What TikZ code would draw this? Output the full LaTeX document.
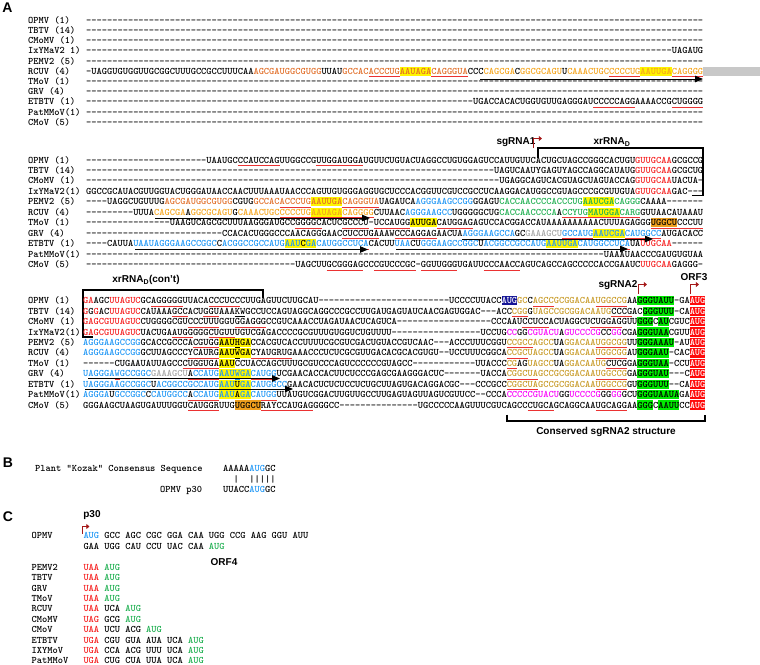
\documentclass[tikz,border=0pt]{standalone}
\usepackage{fontspec}
\setsansfont{Liberation Sans}
\usetikzlibrary{arrows.meta}

\ExplSyntaxOn
\cs_new:Npn \sgap #1 {\prg_replicate:nn {#1} {-\kern0pt}}
\ExplSyntaxOff
\newcommand\tcol[2]{\textcolor{#1}{#2}}
\newcommand\hilite[2]{\setbox0\hbox{#2}\rlap{\color{#1}\rule[-1.6pt]{\wd0}{9.2pt}}\box0}
\newcommand\redul[1]{\setbox0\hbox{#1}\rlap{\color{ulred}\rule[-2.6pt]{\wd0}{0.6pt}}\box0}
\newcommand\blackul[1]{\setbox0\hbox{#1}\rlap{\rule[-2.6pt]{\wd0}{0.6pt}}\box0}
\newcommand\augbox{\hilite{augred}{\textcolor{white}{AUG}}}

\begin{document}
\begin{tikzpicture}[x=1pt,y=-1pt,
	vname/.style={anchor=base west,inner sep=0pt,font=\ttfamily\bfseries\fontsize{9.96}{10}\selectfont},
	seqtxt/.style={vname},
	lab/.style={inner sep=0pt,font=\sffamily\bfseries\fontsize{10}{12}\selectfont},
	panel/.style={inner sep=0pt,font=\sffamily\bfseries\fontsize{14}{16}\selectfont},
	flag/.style={line width=1.8pt,draw=flagred,-{Triangle[length=3.2pt,width=5pt]}},
	seqarrow/.style={line width=0.9pt,-{Triangle[length=8pt,width=6.5pt]}},
	brk/.style={line width=1.5pt}]

	\definecolor{ulred}{RGB}{235,50,50}
	\definecolor{rd}{RGB}{245,30,30}
	\definecolor{o1}{RGB}{225,110,40}
	\definecolor{o2}{RGB}{245,165,30}
	\definecolor{bl}{RGB}{30,150,245}
	\definecolor{gn}{RGB}{30,175,80}
	\definecolor{gd}{RGB}{200,155,40}
	\definecolor{mg}{RGB}{250,0,250}
	\definecolor{gy}{RGB}{165,165,165}
	\definecolor{hly}{RGB}{255,245,0}
	\definecolor{hlg}{RGB}{0,235,0}
	\definecolor{hlo}{RGB}{240,160,30}
	\definecolor{augred}{RGB}{255,10,10}
	\definecolor{augnavy}{RGB}{20,20,150}
	\definecolor{flagred}{RGB}{165,25,25}
	\definecolor{bargray}{RGB}{200,200,200}

	\useasboundingbox (0,0) rectangle (760,664);

	% panel A, first block
	\node (pA) [panel] at (7.5,8) {A};
	\node (tOPMV) [vname] at (28,23.3) {OPMV (1)};
	\node (tTBTV) [vname] at (28,33.5) {TBTV (14)};
	\node (tCMoMV) [vname] at (28,43.7) {CMoMV (1)};
	\node (tIxY) [vname] at (28,53.9) {IxYMaV2 1)};
	\node (tPEMV) [vname] at (28,64.1) {PEMV2 (5)};
	\node (tRCUV) [vname] at (28,74.3) {RCUV (4)};
	\node (tTMoV) [vname] at (28,84.5) {TMoV (1)};
	\node (tGRV) [vname] at (28,94.7) {GRV (4)};
	\node (tETBTV) [vname] at (28,104.9) {ETBTV (1)};
	\node (tPat) [vname] at (28,115.1) {PatMMoV(1)};
	\node (tCMoV) [vname] at (28,125.3) {CMoV (5)};

	\fill[bargray] (703,66.8) rectangle (760,75.8);
	\node (tOPMVs) [seqtxt] at (86,23.3) {\sgap{118}};
	\node (tTBTVs) [seqtxt] at (86,33.5) {\sgap{118}};
	\node (tCMoMVs) [seqtxt] at (86,43.7) {\sgap{118}};
	\node (tIxYs) [seqtxt] at (86,53.9) {\sgap{112}UAGAUG};
	\node (tPEMVs) [seqtxt] at (86,64.1) {\sgap{118}};
	\node (tRCUVs) [seqtxt] at (86,74.3) {\sgap{1}UAGGUGUGGUUGCGGCUUUGCCGCCUUUCAA\tcol{o1}{AGCGAUGGCGUGG}UUAU\tcol{o1}{GCCAC\redul{ACCCUG}}\hilite{hly}{\tcol{o1}{AAUAGA}}\tcol{o1}{\redul{CAGGGUA}}CCC\tcol{o2}{CAGCGA}C\tcol{o2}{GGCGCAGU}U\tcol{o2}{CAAACUGC\redul{CCCCUG}}\hilite{hly}{\tcol{o2}{AAUUGA}}\tcol{o2}{\redul{CAGGGG}}};
	\node (tTMoVs) [seqtxt] at (86,84.5) {\sgap{118}};
	\node (tGRVs) [seqtxt] at (86,94.7) {\sgap{118}};
	\node (tETBTVs) [seqtxt] at (86,104.9) {\sgap{74}UGACCACACUGGUGUUGAGGGAU\redul{CCCCCAGG}AAAACCG\redul{CUGGGG}};
	\node (tPats) [seqtxt] at (86,115.1) {\sgap{118}};
	\node (tCMoVs) [seqtxt] at (86,125.3) {\sgap{118}};
	\draw[seqarrow] (480,79) -- (703,79);

	% panel A, second block
	\node (sg1) [lab] at (516,142) {sgRNA1};
	\node (xr1) [lab] at (612,142) {xrRNA\textsubscript{D}};
	\draw[flag] (533.5,148) -- (533.5,138.5) -- (542,138.5);
	\draw[brk] (538,157.5) -- (538,148) -- (703,148) -- (703,195.5) -- (692,195.5);

	\node (mOPMV) [vname] at (28,163) {OPMV (1)};
	\node (mTBTV) [vname] at (28,173.45) {TBTV (14)};
	\node (mCMoMV) [vname] at (28,183.9) {CMoMV (1)};
	\node (mIxY) [vname] at (28,194.35) {IxYMaV2(1)};
	\node (mPEMV) [vname] at (28,204.8) {PEMV2 (5)};
	\node (mRCUV) [vname] at (28,215.25) {RCUV (4)};
	\node (mTMoV) [vname] at (28,225.7) {TMoV (1)};
	\node (mGRV) [vname] at (28,236.15) {GRV (4)};
	\node (mETBTV) [vname] at (28,246.6) {ETBTV (1)};
	\node (mPat) [vname] at (28,257.05) {PatMMoV(1)};
	\node (mCMoV) [vname] at (28,267.5) {CMoV (5)};

	\node (mOPMVs) [seqtxt] at (86,163) {\sgap{23}UAAUGC\redul{CCAUCCAG}UUGGCCG\redul{UUGGAUGGA}UGUUCUGUACUAGGCCUGUGGAGUCCAUUGUUCACUGCUAGCCGGGCACUGU\tcol{rd}{GUUGCAA}GCGCCG};
	\node (mTBTVs) [seqtxt] at (86,173.45) {\sgap{78}UAGUCAAUYGAGUYAGCCAGGCAUAUG\tcol{rd}{GUUGCAA}GCGCUG};
	\node (mCMoMVs) [seqtxt] at (86,183.9) {\sgap{79}UGAGGCAGUCACGUAGCUAGUACCAG\tcol{rd}{GUUGCAA}UACUA\sgap{1}};
	\node (mIxYs) [seqtxt] at (86,194.35) {GGCCGCAUACGUUGGUACUGGGAUAACCAACUUUAAAUAACCCAGUUGUGGGAGGUGCUCCCACGGUUCGUCCGCCUCAAGGACAUGGCCGUAGCCCGCGUUGUA\tcol{rd}{GUUGCAA}GAC\sgap{3}};
	\node (mPEMVs) [seqtxt] at (86,204.8) {\sgap{4}UAGGCUGUUUG\tcol{o1}{AGCGAUGGCGUGG}CGUG\tcol{o1}{GCCAC\redul{ACCCUG}}\hilite{hly}{\tcol{o1}{AAUUGA}}\tcol{o1}{\redul{CAGGGUA}}UAGAUCA\tcol{bl}{AGGGAAGCCGG}GGAGU\tcol{gn}{CACCAACCCCACCCUG}\hilite{hly}{\tcol{gn}{AAUCGA}}\tcol{gn}{CAGGG}CAAAA\sgap{7}};
	\node (mRCUVs) [seqtxt] at (86,215.25) {\sgap{9}UUUA\tcol{o2}{CAGCGA}A\tcol{o2}{GGCGCAGU}G\tcol{o2}{CAAACUGC\redul{CCCCUG}}\hilite{hly}{\tcol{o2}{\redul{AAUAGA}}}\tcol{o2}{\redul{CAGGGG}}CUUAAC\tcol{bl}{AGGGAAGCC}UGGGGGCUG\tcol{gn}{CACCAACCCCA}A\tcol{gn}{\redul{CCYUG}}\hilite{hly}{\tcol{gn}{\redul{MAUGGA}}}\tcol{gn}{\redul{CARG}}GUUAACAUAAAU};
	\node (mTMoVs) [seqtxt] at (86,225.7) {\sgap{16}UAAGUCAGCGCUUUAAGGGAUGCC\redul{GGGGC}ACUC\redul{GCCCU}\sgap{1}\redul{UCCAUGG}\hilite{hly}{AUUGA}\redul{CAUGGAG}AGUCCACGGACCAUAAAAAAAAAACUUUAGAGGG\hilite{hlo}{\redul{UGGCU}}\redul{CCCUU}};
	\node (mGRVs) [seqtxt] at (86,236.15) {\sgap{26}CCACACUGGGCCCAACAGGGAAC\redul{CUCCUGA}AAW\redul{CCCAGGAG}AACUA\tcol{bl}{AGGGAAGCCA}GC\tcol{gy}{GAAAGCU}\tcol{bl}{\redul{GCCAUG}}\hilite{hly}{\tcol{bl}{AAUCGA}}\tcol{bl}{\redul{CAUGGCC}}AUGACACC};
	\node (mETBTVs) [seqtxt] at (86,246.6) {\sgap{4}CAUUA\tcol{bl}{UAAUAGGGAAGCCGGC}C\tcol{bl}{ACGGCC\redul{GCCAUG}}\hilite{hly}{\tcol{bl}{AAU}C\tcol{bl}{GA}}\tcol{bl}{\redul{CAUGGCCUCA}}CACUU\tcol{bl}{UAA}CU\tcol{bl}{GGGAAGCCGGC}U\tcol{bl}{ACGGCC\redul{GCCAUG}}\hilite{hly}{\tcol{bl}{AAUUGA}}\tcol{bl}{\redul{CAUGGCCUCA}}UA\tcol{rd}{UUGCAA}\sgap{6}};
	\node (mPats) [seqtxt] at (86,257.05) {\sgap{99}UAAAUAACCCGAUGUGUAA};
	\node (mCMoVs) [seqtxt] at (86,267.5) {\sgap{40}UAGCUU\redul{GCGGGAG}CC\redul{CGUCCCGC}\sgap{1}\redul{GGUUGGG}UGAUU\redul{CCCAACC}AGUCAGCCAGCCCCCACCGAAUC\tcol{rd}{UUGCAA}GAGGG\sgap{1}};
	\draw[seqarrow] (155,218) -- (370,218);
	\draw[seqarrow] (462,239) -- (653,239);
	\draw[seqarrow] (135,249.5) -- (368,249.5);
	\draw[seqarrow] (396,249) -- (628,249);

	% panel A, third block
	\node (xr2) [lab] at (146,280) {xrRNA\textsubscript{D}(con't)};
	\draw[brk] (93,337) -- (83,337) -- (83,290) -- (263,290) -- (263,298);
	\node (sg2) [lab] at (618,285) {sgRNA2};
	\node (orf3) [lab] at (694,277) {ORF3};
	\draw[flag] (638.5,294) -- (638.5,284.5) -- (647,284.5);
	\draw[flag] (690.5,294) -- (690.5,284.5) -- (699,284.5);

	\node (bOPMV) [vname] at (28,303.7) {OPMV (1)};
	\node (bTBTV) [vname] at (28,314.1) {TBTV (14)};
	\node (bCMoMV) [vname] at (28,324.6) {CMoMV (1)};
	\node (bIxY) [vname] at (28,335) {IxYMaV2(1)};
	\node (bPEMV) [vname] at (28,345.4) {PEMV2 (5)};
	\node (bRCUV) [vname] at (28,355.9) {RCUV (4)};
	\node (bTMoV) [vname] at (28,366.3) {TMoV (1)};
	\node (bGRV) [vname] at (28,376.7) {GRV (4)};
	\node (bETBTV) [vname] at (28,387.1) {ETBTV (1)};
	\node (bPat) [vname] at (28,397.6) {PatMMoV(1)};
	\node (bCMoV) [vname] at (28,408) {CMoV (5)};

	\node (bOPMVs) [seqtxt] at (83,303.7) {\tcol{rd}{GA}AGC\tcol{rd}{UUAGUC}GC\redul{AGGGGG}UUACA\redul{CCCUCC}CUUGAGUUCUUGCAU\sgap{25}UCCCCUUACC\hilite{augnavy}{\textcolor{white}{AUG}}\tcol{gd}{GC}C\tcol{gd}{\redul{AGCC}GCGGACAA\redul{UGGCCG}}AA\hilite{hlg}{GGGUAUU}\sgap{1}GA\augbox};
	\node (bTBTVs) [seqtxt] at (83,314.1) {\tcol{rd}{G}G\tcol{rd}{G}AC\tcol{rd}{UUAGUC}CAUAAA\redul{GCC}ACU\redul{GGU}AAA\blackul{KW}GCCUCCAGUAGGCAGGCCCGCCUUGAUGAGUAUCAACGAGUGGAC\sgap{3}ACC\tcol{gd}{\redul{CGG}}G\tcol{gd}{UAGCCGCGGACAAUG}\redul{CCCG}AC\hilite{hlg}{GGGUUU}\sgap{1}CA\augbox};
	\node (bCMoMVs) [seqtxt] at (83,324.6) {\tcol{rd}{GAGCGUUAGUC}CUGGGGCGU\redul{CCCUUU}GGU\redul{GGAGGG}CCGUCAAACCUAGAUAACUCAGUCA\sgap{18}CCCAAU\redul{CCUCC}ACUAGGCU\redul{CUGGAG}GUU\hilite{hlg}{GGG}C\hilite{hlg}{AU}CGUC\augbox};
	\node (bIxYs) [seqtxt] at (83,335) {\tcol{rd}{GAGCGUUAGUC}UACUGA\redul{AUGG}GGG\redul{CUGUU}UGUCGAGACCCCGCGUUUGUGGUCUGUUUU\sgap{17}UCCUG\tcol{mg}{CC}GG\tcol{mg}{CGUACU}A\tcol{mg}{GUCCCCG}CC\tcol{mg}{GG}CGA\hilite{hlg}{GGGUAA}CGUU\augbox};
	\node (bPEMVs) [seqtxt] at (83,345.4) {\tcol{bl}{AGGGAAGCCGG}GCACCGCCCA\redul{CGUGG}\hilite{hly}{AAU\blackul{H}GA}CCACGUCACCUUUUCGCGUCGACUGUACCGUCAAC\sgap{3}ACCCUUUCGGU\tcol{gd}{\redul{CCGCC}AGCC}UA\tcol{gd}{GGACAA\redul{UGGCGG}}UU\hilite{hlg}{GGGAAAU}\sgap{1}AU\augbox};
	\node (bRCUVs) [seqtxt] at (83,355.9) {\tcol{bl}{AGGGAAGCCGG}GCUUAGCCC\redul{YCAURG}\hilite{hly}{AAU\blackul{W}GA}\redul{CYAUGRUG}AAACCCUCUCGCGUUGACACGCACGUGU\sgap{2}UCCUUUCGGCA\tcol{gd}{\redul{CCGC}UAGCC}UA\tcol{gd}{GGACAA\redul{UGGCGG}}AU\hilite{hlg}{GGGAAU}\sgap{1}CAC\augbox};
	\node (bTMoVs) [seqtxt] at (83,366.3) {\sgap{6}CUGAAUAUUAGCC\redul{CUGGUGA}\hilite{hly}{AAU}CCUACCAGCUUUGCGUCCCAGUCCCCCCGUAGCC\sgap{12}UUACCC\tcol{gd}{\redul{CG}}AG\tcol{gd}{UAGCC}UA\tcol{gd}{GGACAAUG}\redul{CUCG}GA\hilite{hlg}{GGGUAA}\sgap{1}CCU\augbox};
	\node (bGRVs) [seqtxt] at (83,376.7) {\tcol{bl}{UAGGGA\redul{W}GCCGGC}\tcol{gy}{GAAAGCU}\redul{A}\tcol{bl}{\redul{CCAUG}}\hilite{hly}{\tcol{bl}{AAU\blackul{W}GA}}\tcol{bl}{\redul{CAUGG}}UCGAACACCACUUCUCCCGAGCGAAGGGACUC\sgap{7}UACCA\tcol{gd}{\redul{CGGCUA}GCCGCGGACAA\redul{UGGCCG}}GA\hilite{hlg}{GGGUAU}\sgap{3}C\augbox};
	\node (bETBTVs) [seqtxt] at (83,387.1) {\tcol{bl}{UAGGGAAGCCGGC}U\tcol{bl}{ACGGCC\redul{GCCAUG}}\hilite{hly}{\tcol{bl}{AAU}U\tcol{bl}{GA}}\tcol{bl}{\redul{CAUGGCC}}GAACACUCUCUCCUCUGCUUAGUGACAGGACGC\sgap{3}CCCGCC\tcol{gd}{\redul{CGGCUA}GCCGCGGACAA\redul{UGGCCG}}GU\hilite{hlg}{GGGUUU}\sgap{2}CA\augbox};
	\node (bPats) [seqtxt] at (83,397.6) {\tcol{bl}{AGGGA}U\tcol{bl}{GCCGGC}C\tcol{bl}{CAUGGCC}\redul{A}\tcol{bl}{\redul{CCAUG}}\hilite{hly}{\tcol{bl}{AAU}A\tcol{bl}{GA}}\tcol{bl}{\redul{CAUGG}}UUAUGUCGGACUUGUUGCCUUGAGUAGUUAGUCGUUCC\sgap{2}CCCA\tcol{mg}{CCCCCGUACU}GG\tcol{mg}{UCCCCG}GG\tcol{mg}{GG}GCU\hilite{hlg}{GGGUAAUA}GA\augbox};
	\node (bCMoVs) [seqtxt] at (83,408) {GGGAAGCUAAGUGAUUUGGU\redul{CAUGGR}UUG\hilite{hlo}{UGGCU}\redul{RAYCCAUGAG}GGGCC\sgap{15}UGCCCCCAAGUUUCGUCAGCC\redul{CUGCA}GCAGGCAA\redul{UGCAGG}AA\hilite{hlg}{GGG}C\hilite{hlg}{AAUU}CC\augbox};
	\draw[seqarrow] (88,378.5) -- (280,378.5);
	\draw[seqarrow] (85,389) -- (293,389);
	\draw[brk] (507,414.5) -- (507,421) -- (705,421) -- (705,414.5);
	\node (cons) [lab] at (606,432) {Conserved sgRNA2 structure};

	% panel B
	\node (pB) [panel] at (8,463) {B};
	\node (koz) [vname] at (35,471.3) {Plant "Kozak" Consensus Sequence};
	\node (kozs) [seqtxt] at (223,471.3) {AAAAA\tcol{bl}{AUG}GC};
	\node (kozm) [seqtxt] at (223,482.3) {\hphantom{AA}|\hphantom{AA}|||||};
	\node (opp) [vname] at (160,492.9) {OPMV p30};
	\node (opps) [seqtxt] at (223,492.9) {UUACC\tcol{bl}{AUG}GC};

	% panel C
	\node (pC) [panel] at (8,517) {C};
	\node (p30) [lab] at (92,515) {p30};
	\draw[flag] (82.5,533.5) -- (82.5,526.5) -- (89.5,526.5);
	\node (cOPMV) [vname] at (31.5,538.7) {OPMV};
	\node (cOPMVs) [seqtxt] at (83.3,538.7) {\tcol{bl}{AUG} GCC AGC CGC GGA CAA UGG CCG AAG GGU AUU};
	\node (cOPMVt) [seqtxt] at (83.3,549.7) {GAA UGG CAU CCU UAC CAA \tcol{gn}{AUG}};
	\node (orf4) [lab] at (224,562) {ORF4};
	\node (cPEMV) [vname] at (31.5,570.3) {PEMV2};
	\node (cTBTV) [vname] at (31.5,580.7) {TBTV};
	\node (cGRV) [vname] at (31.5,591.1) {GRV};
	\node (cTMoV) [vname] at (31.5,601.4) {TMoV};
	\node (cRCUV) [vname] at (31.5,611.8) {RCUV};
	\node (cCMoMV) [vname] at (31.5,622.2) {CMoMV};
	\node (cCMoV) [vname] at (31.5,632.6) {CMoV};
	\node (cETBTV) [vname] at (31.5,643) {ETBTV};
	\node (cIXY) [vname] at (31.5,653.3) {IXYMoV};
	\node (cPat) [vname] at (31.5,663.2) {PatMMoV};
	\node (cPEMVs) [seqtxt] at (83.3,570.3) {\tcol{rd}{UAA} \tcol{gn}{AUG}};
	\node (cTBTVs) [seqtxt] at (83.3,580.7) {\tcol{rd}{UAA} \tcol{gn}{AUG}};
	\node (cGRVs) [seqtxt] at (83.3,591.1) {\tcol{rd}{UAA} \tcol{gn}{AUG}};
	\node (cTMoVs) [seqtxt] at (83.3,601.4) {\tcol{rd}{UAA} \tcol{gn}{AUG}};
	\node (cRCUVs) [seqtxt] at (83.3,611.8) {\tcol{rd}{UAA} UCA \tcol{gn}{AUG}};
	\node (cCMoMVs) [seqtxt] at (83.3,622.2) {\tcol{rd}{UAG} GCG \tcol{gn}{AUG}};
	\node (cCMoVs) [seqtxt] at (83.3,632.6) {\tcol{rd}{UAA} UCU ACG \tcol{gn}{AUG}};
	\node (cETBTVs) [seqtxt] at (83.3,643) {\tcol{rd}{UGA} CGU GUA AUA UCA \tcol{gn}{AUG}};
	\node (cIXYs) [seqtxt] at (83.3,653.3) {\tcol{rd}{UGA} CCA ACG UUU UCA \tcol{gn}{AUG}};
	\node (cPats) [seqtxt] at (83.3,663.2) {\tcol{rd}{UGA} CUG CUA UUA UCA \tcol{gn}{AUG}};

\end{tikzpicture}
\end{document}
